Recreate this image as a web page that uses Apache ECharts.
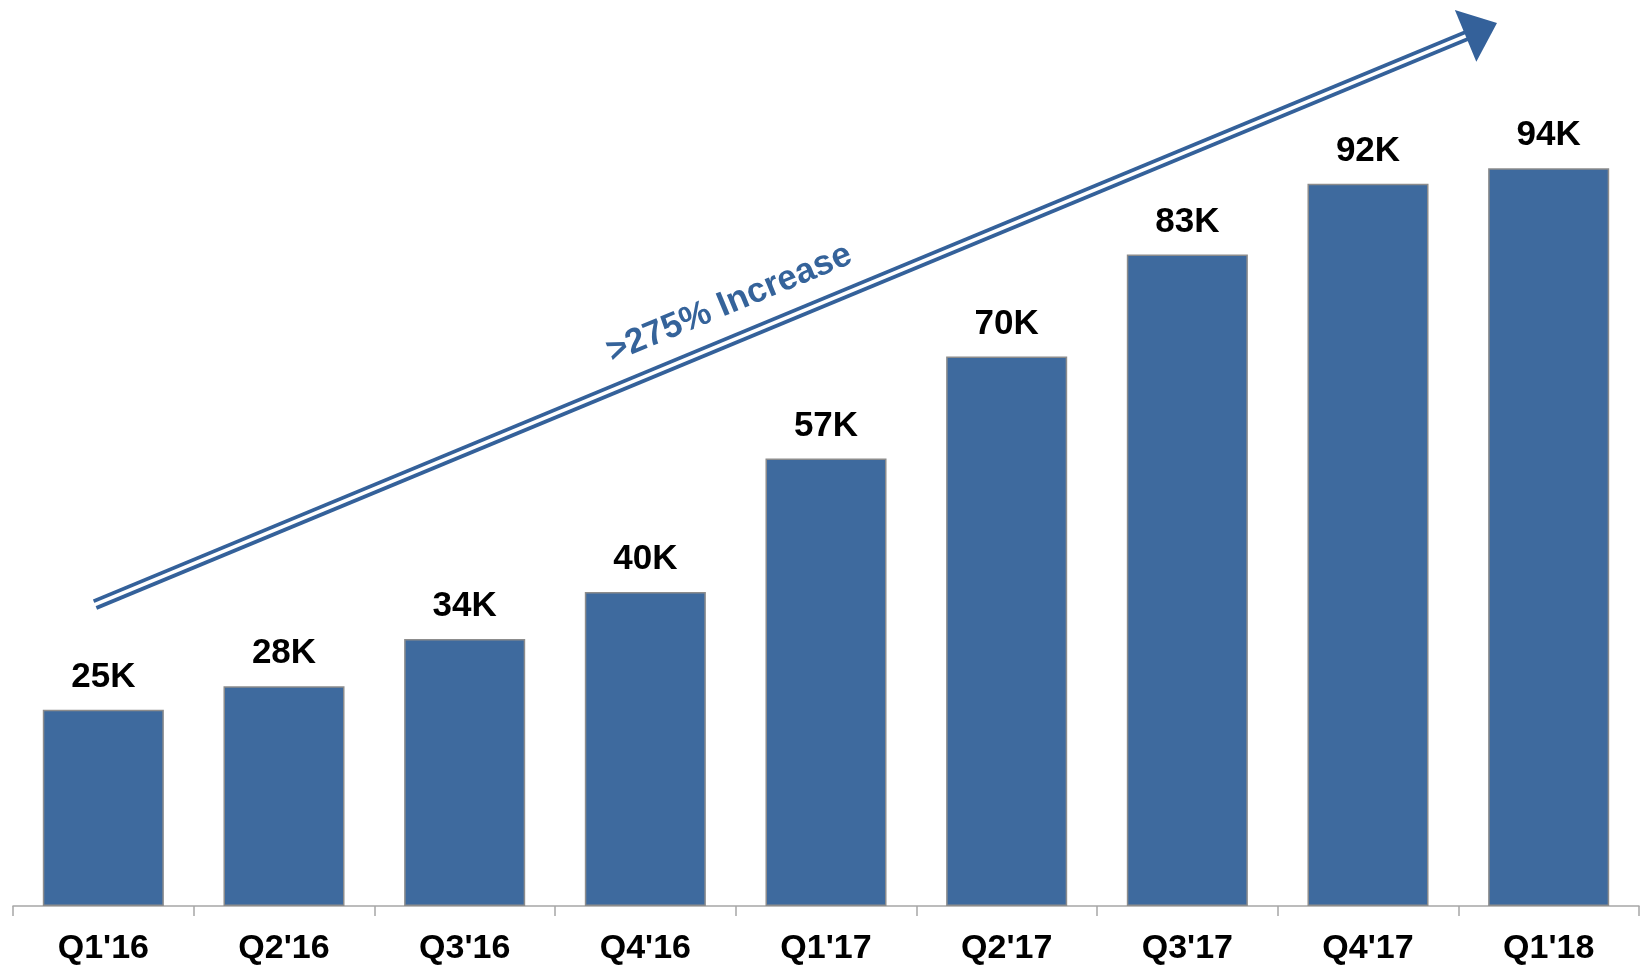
<!DOCTYPE html>
<html>
<head>
<meta charset="utf-8">
<title>Quarterly growth</title>
<script src="https://cdn.jsdelivr.net/npm/echarts@6/dist/echarts.min.js"></script>
<style>
  html, body { margin: 0; padding: 0; background: #fff; }
  #chart { width: 1640px; height: 966px; }
</style>
</head>
<body>
<div id="chart"></div>
<script>
// data
const quarters = ["Q1'16", "Q2'16", "Q3'16", "Q4'16", "Q1'17", "Q2'17", "Q3'17", "Q4'17", "Q1'18"];
const counts = [25, 28, 34, 40, 57, 70, 83, 92, 94];
// trend arrow: [x start, y start, x tip, y tip] in (category index, K) units
const trendArrow = [-0.046, 38.4, 7.714, 112.5];
const trendText = ">275% Increase";

const FONT = "'Liberation Sans', Arial, sans-serif";
const BLUE = "#3e6a9e";
const ARROW_BLUE = "#34619a";

const chart = echarts.init(document.getElementById("chart"));

// draws the double-lined arrow plus its rotated caption
function renderArrow(params, api) {
  const p0 = api.coord([api.value(0), api.value(1)]);
  const p1 = api.coord([api.value(2), api.value(3)]);
  const dx = p1[0] - p0[0], dy = p1[1] - p0[1];
  const len = Math.sqrt(dx * dx + dy * dy);
  const u = [dx / len, dy / len];
  const n = [u[1], -u[0]];
  const headLen = 34, headHalf = 28;
  const base = [p1[0] - u[0] * headLen, p1[1] - u[1] * headLen];
  const tc = [p0[0] + u[0] * len * 0.462 + n[0] * 35, p0[1] + u[1] * len * 0.462 + n[1] * 35];
  return {
    type: "group",
    children: [
      { type: "line", shape: { x1: p0[0], y1: p0[1], x2: base[0] + u[0], y2: base[1] + u[1] },
        style: { stroke: ARROW_BLUE, lineWidth: 11, lineCap: "butt" } },
      { type: "line", shape: { x1: p0[0] - u[0], y1: p0[1] - u[1], x2: base[0] + u[0], y2: base[1] + u[1] },
        style: { stroke: "#fff", lineWidth: 3.5, lineCap: "butt" } },
      { type: "polygon",
        shape: { points: [
          [base[0] + n[0] * headHalf, base[1] + n[1] * headHalf],
          [p1[0], p1[1]],
          [base[0] - n[0] * headHalf, base[1] - n[1] * headHalf]
        ] },
        style: { fill: ARROW_BLUE } },
      { type: "text", x: tc[0], y: tc[1], rotation: Math.atan2(-dy, dx),
        style: { text: trendText, x: 0, y: 0, align: "center", verticalAlign: "middle",
                 fill: "#35639a", font: "bold 35px " + FONT } }
    ]
  };
}

chart.setOption({
  animation: false,
  grid: { left: 13, right: 1, top: 3.3, bottom: 56.5 },
  xAxis: [
    {
      type: "category",
      data: quarters,
      axisLine: { lineStyle: { color: "#a6a6a6", width: 1.5 } },
      axisTick: { show: true, length: 10, lineStyle: { color: "#a6a6a6", width: 1.5 } },
      axisLabel: { color: "#000", fontSize: 34, fontWeight: "bold", fontFamily: FONT, margin: 26, interval: 0 }
    },
    { type: "value", min: -0.5, max: 8.5, show: false }
  ],
  yAxis: { type: "value", min: 0, max: 115, show: false },
  series: [
    {
      type: "bar",
      data: counts,
      barCategoryGap: "33%",
      itemStyle: { color: BLUE, borderColor: "#8c8c8c", borderWidth: 1.5 },
      label: {
        show: true, position: "top", distance: 15,
        formatter: "{c}K", color: "#000", fontSize: 35, fontWeight: "bold", fontFamily: FONT
      }
    },
    {
      type: "custom",
      xAxisIndex: 1,
      yAxisIndex: 0,
      silent: true,
      clip: false,
      encode: { x: [0, 2], y: [1, 3] },
      data: [trendArrow],
      renderItem: renderArrow
    }
  ]
});
</script>
</body>
</html>
